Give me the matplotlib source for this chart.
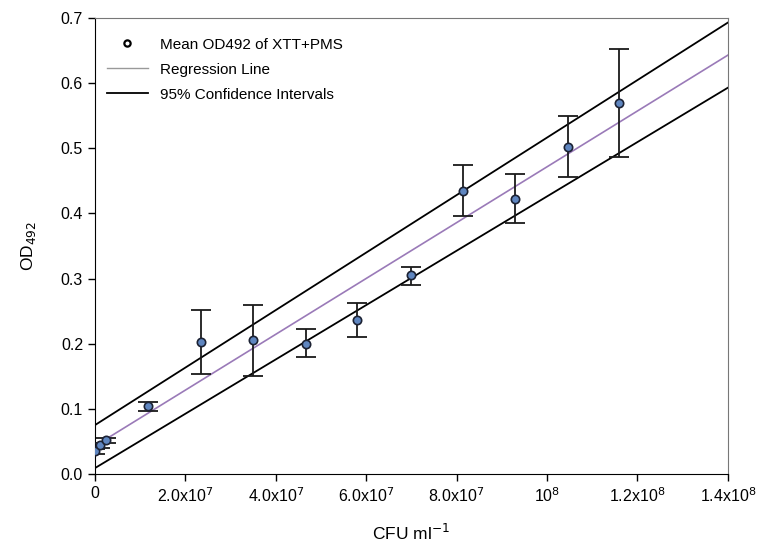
import matplotlib.pyplot as plt
from matplotlib.ticker import FixedLocator

plt.rcParams['font.family'] = ['Liberation Sans', 'DejaVu Sans']

# mean OD492 values with error bar limits
cfu = [0, 1.1e6, 2.4e6, 1.17e7, 2.35e7, 3.5e7, 4.67e7, 5.8e7, 7.0e7, 8.15e7, 9.3e7, 1.047e8, 1.16e8]
od = [0.035, 0.044, 0.052, 0.104, 0.202, 0.205, 0.200, 0.236, 0.305, 0.435, 0.422, 0.502, 0.570]
err_up = [0.004, 0.004, 0.004, 0.007, 0.050, 0.055, 0.022, 0.027, 0.013, 0.039, 0.038, 0.048, 0.083]
err_low = [0.004, 0.004, 0.004, 0.007, 0.049, 0.055, 0.020, 0.025, 0.015, 0.039, 0.036, 0.046, 0.083]

# regression line and 95% confidence lines (end points)
line_x = [0, 1.4e8]
reg_y = [0.043, 0.643]
ci_upper = [0.075, 0.693]
ci_lower = [0.009, 0.593]

xtick_vals = [0, 2e7, 4e7, 6e7, 8e7, 1e8, 1.2e8, 1.4e8]
xtick_labels = ['0', '2.0x10$^7$', '4.0x10$^7$', '6.0x10$^7$', '8.0x10$^7$',
                '10$^8$', '1.2x10$^8$', '1.4x10$^8$']
ytick_vals = [0.0, 0.1, 0.2, 0.3, 0.4, 0.5, 0.6, 0.7]

fig = plt.figure(figsize=(7.59, 5.49), dpi=100)
ax = fig.add_axes([0.125, 0.1366, 0.834, 0.8306])

ax.plot(line_x, ci_upper, color='black', lw=1.3, zorder=2)
ax.plot(line_x, ci_lower, color='black', lw=1.3, zorder=2)
ax.plot(line_x, reg_y, color='#9a7ab8', lw=1.2, zorder=2)

ax.errorbar(cfu, od, yerr=[err_low, err_up], fmt='none', ecolor='#1a1a1a',
            elinewidth=1.3, capsize=7, capthick=1.3, zorder=3)
ax.plot(cfu, od, 'o', ms=6, mfc='#5f86c0', mec='#1c2233', mew=1.2, zorder=4)

# legend handles
h1, = ax.plot([], [], 'o', ms=4.5, mfc='white', mec='black', mew=1.6)
h2, = ax.plot([], [], color='#999999', lw=1)
h3, = ax.plot([], [], color='black', lw=1.3)
ax.legend([h1, h2, h3], ['Mean OD492 of XTT+PMS', 'Regression Line', '95% Confidence Intervals'],
          loc='upper left', frameon=False, fontsize=11, handlelength=2.7,
          handletextpad=0.75, borderaxespad=0.3, labelspacing=0.72,
          bbox_to_anchor=(0.002, 0.98))

ax.set_xlim(0, 1.4e8)
ax.set_ylim(0, 0.7)
ax.xaxis.set_major_locator(FixedLocator(xtick_vals))
ax.set_xticklabels(xtick_labels)
ax.set_yticks(ytick_vals)
ax.set_yticklabels(['%.1f' % v for v in ytick_vals])
ax.tick_params(direction='out', length=5, width=1, labelsize=11.5, colors='black')
for s in ['top', 'right']:
    ax.spines[s].set_color('#777777')
for s in ['bottom', 'left']:
    ax.spines[s].set_color('black')

ax.set_xlabel('CFU ml$^{-1}$', fontsize=12.5, labelpad=13)
ax.set_ylabel('OD$_{492}$', fontsize=12.5, labelpad=16)

fig.savefig('out.png', dpi=100)
